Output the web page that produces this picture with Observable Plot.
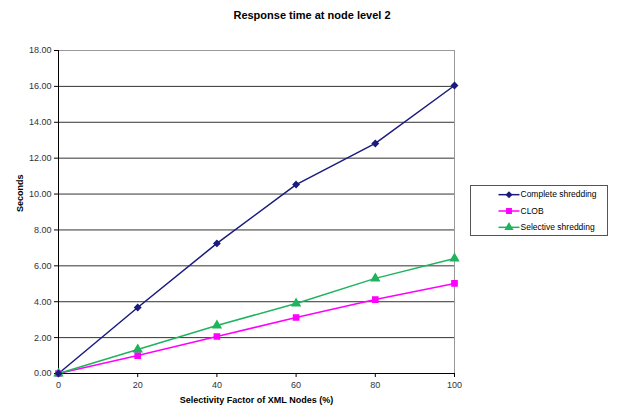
<!DOCTYPE html>
<html><head><meta charset="utf-8">
<script src="https://cdn.jsdelivr.net/npm/d3@7"></script>
<script src="https://cdn.jsdelivr.net/npm/@observablehq/plot@0.6"></script>
<style>
body{margin:0;background:#fff;font-family:"Liberation Sans",Arial,sans-serif;}
#wrap{position:relative;width:624px;height:410px;}
#title{position:absolute;left:0;width:624px;top:9px;text-align:center;font-weight:bold;font-size:11px;color:#000;}
#legend{position:absolute;left:470px;top:185px;width:138px;height:51px;border:1px solid #555;box-sizing:border-box;font-size:9px;color:#000;}
</style>
</head><body>
<div id="wrap"><div id="title">Response time at node level 2</div><div id="chart"></div><div id="legend"></div></div>
<script>
const xValues = [0, 20, 40, 60, 80, 100];
const seriesNames = ["Complete shredding", "CLOB", "Selective shredding"];
const complete = [0, 3.68, 7.25, 10.53, 12.82, 16.05];
const clob = [0, 1.0, 2.06, 3.12, 4.12, 5.02];
const selective = [0, 1.34, 2.68, 3.9, 5.3, 6.41];
const yTicks = [0, 2, 4, 6, 8, 10, 12, 14, 16, 18];
const colors = ["#1a1a80", "#ff00ff", "#1fb35e"];
const symbols = ["diamond2", "square", "triangle"];
const markerSizes = [2.6, 2.9, 2.9];

const allSeries = [complete, clob, selective];
const data = [];
allSeries.forEach((vals, si) => vals.forEach((v, i) => data.push({x: xValues[i], y: v, s: seriesNames[si], r: markerSizes[si]})));

const chart = Plot.plot({
  width: 624, height: 410,
  marginLeft: 58, marginRight: 170, marginTop: 50, marginBottom: 37,
  style: {fontFamily: "Liberation Sans, Arial, sans-serif", fontSize: "9px", color: "#000", background: "#fff"},
  x: {domain: [0, 100], ticks: xValues, tickSize: 4, tickPadding: 4, label: null},
  y: {domain: [0, 18], ticks: yTicks, tickFormat: d => d.toFixed(2), tickSize: 4, tickPadding: 3, label: null},
  r: {type: "identity"},
  color: {domain: seriesNames, range: colors},
  symbol: {domain: seriesNames, range: symbols},
  marks: [
    Plot.ruleY(yTicks.slice(1, -1), {stroke: "#333", strokeWidth: 1}),
    Plot.ruleY([18], {stroke: "#999"}),
    Plot.ruleX([100], {stroke: "#999"}),
    Plot.axisX({ticks: xValues, tickSize: 4, tickPadding: 4, fill: "#333", stroke: "#000", label: null}),
    Plot.axisY({ticks: yTicks, tickFormat: d => d.toFixed(2), tickSize: 4, tickPadding: 3, fill: "#333", stroke: "#000", label: null}),
    Plot.ruleX([0], {stroke: "#000"}),
    Plot.ruleY([0], {stroke: "#000"}),
    Plot.line(data, {x: "x", y: "y", z: "s", stroke: "s", strokeWidth: 1.5}),
    Plot.dot(data, {x: "x", y: "y", symbol: "s", fill: "s", stroke: "s", r: "r"}),
    Plot.text(["Selectivity Factor of XML Nodes (%)"], {frameAnchor: "bottom", dy: 29, fontWeight: "bold", fontSize: 9, fill: "#000"}),
    Plot.text(["Seconds"], {frameAnchor: "left", dx: -38, rotate: -90, fontWeight: "bold", fontSize: 9, fill: "#000"})
  ]
});
document.getElementById("chart").appendChild(chart);

const legData = seriesNames.map((s, i) => ({s, i, r: markerSizes[i] * 0.85}));
const leg = Plot.plot({
  width: 136, height: 49, margin: 0,
  x: {domain: [0, 136], axis: null},
  y: {domain: [-0.5, 2.5], reverse: true, axis: null},
  r: {type: "identity"},
  color: {domain: seriesNames, range: colors},
  symbol: {domain: seriesNames, range: symbols},
  style: {fontFamily: "Liberation Sans, Arial, sans-serif", fontSize: "9px", background: "transparent"},
  marks: [
    Plot.link(legData, {x1: () => 27, x2: () => 48, y1: "i", y2: "i", stroke: "s", strokeWidth: 1.5}),
    Plot.dot(legData, {x: () => 37.5, y: "i", symbol: "s", fill: "s", stroke: "s", r: "r"}),
    Plot.text(legData, {x: () => 49, y: "i", text: "s", textAnchor: "start", fill: "#000", fontSize: 8.5})
  ]
});
document.getElementById("legend").appendChild(leg);
</script>
</body></html>
